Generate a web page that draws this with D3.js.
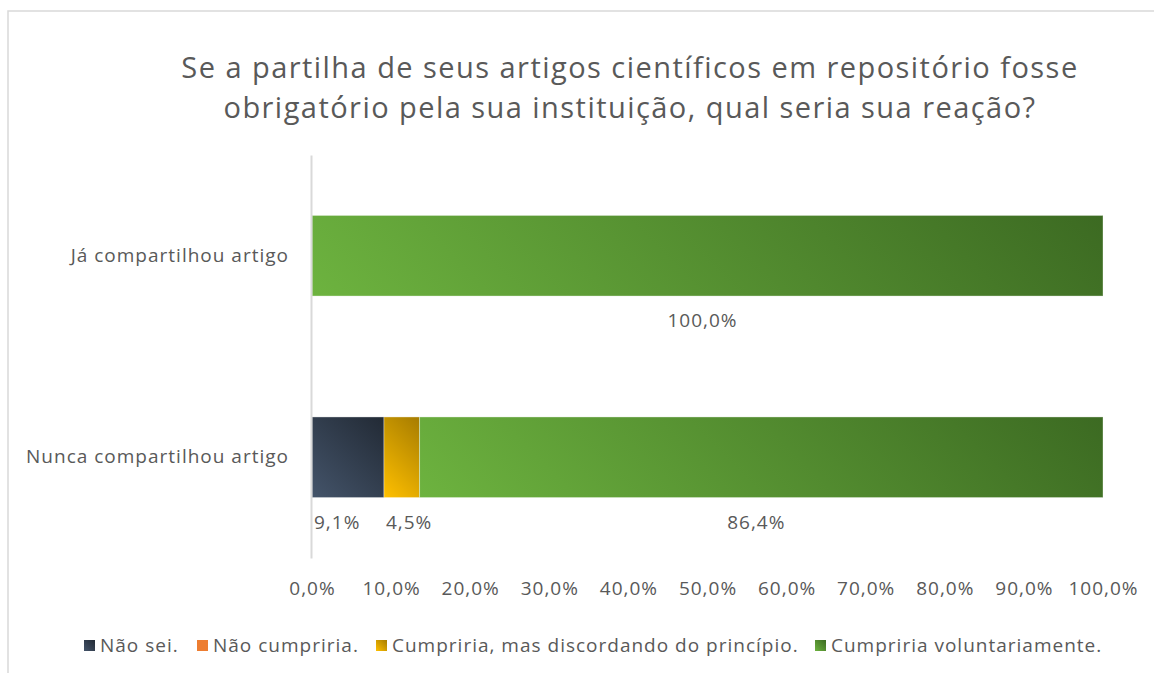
<!DOCTYPE html>
<html lang="pt">
<head>
<meta charset="UTF-8">
<title>Partilha obrigatória em repositório</title>
<style>
  html, body { margin: 0; background: #fff; }
  text { font-family: 'Open Sans', sans-serif; fill: #595959; }
</style>
</head>
<body>
<svg width="1154" height="673"></svg>
<script src="https://d3js.org/d3.v7.min.js"></script>
<script>

const titleLines = ["Se a partilha de seus artigos científicos em repositório fosse",
                    "obrigatório pela sua instituição, qual seria sua reação?"];
const categories = ["Já compartilhou artigo", "Nunca compartilhou artigo"];
const seriesNames = ["Não sei.", "Não cumpriria.", "Cumpriria, mas discordando do princípio.", "Cumpriria voluntariamente."];
const naoSei = [0, 9.1];
const naoCumpriria = [0, 0];
const cumpririaDiscordando = [0, 4.5];
const cumpririaVoluntariamente = [100, 86.4];
const xTicks = [0, 10, 20, 30, 40, 50, 60, 70, 80, 90, 100];

const seriesValues = [naoSei, naoCumpriria, cumpririaDiscordando, cumpririaVoluntariamente];
// gradient colours: bottom-left -> top-right
const colors = [["#44546a", "#222a35"], ["#ed7d31", "#ed7d31"], ["#ffc000", "#a67c00"], ["#6db33f", "#3c6a22"]];

const pct = function (d) { return d3.format(".1f")(d).replace(".", ",") + "%"; };

const svg = d3.select("svg");
const defs = svg.append("defs");

// frame
svg.append("rect")
    .attr("x", 8).attr("y", 11).attr("width", 1200).attr("height", 700)
    .attr("fill", "none").attr("stroke", "#d9d9d9").attr("stroke-width", 1.5);

// 45 degree gradient in user space, so wide bars fade left to right
function gradFor(id, c, bx, by, bw, bh) {
  const L = (bw + bh) / 2;
  const g = defs.append("linearGradient")
      .attr("id", id)
      .attr("gradientUnits", "userSpaceOnUse")
      .attr("x1", bx).attr("y1", by + bh)
      .attr("x2", bx + L).attr("y2", by + bh - L);
  g.append("stop").attr("offset", "0%").attr("stop-color", c[0]);
  g.append("stop").attr("offset", "100%").attr("stop-color", c[1]);
  return "url(#" + id + ")";
}

// title
svg.append("text")
    .attr("x", 630).attr("y", 78)
    .attr("text-anchor", "middle")
    .style("font-size", "29px")
    .style("letter-spacing", "1.45px")
    .selectAll("tspan")
    .data(titleLines)
    .join("tspan")
    .attr("x", 630)
    .attr("dy", function (d, i) { return i === 0 ? 0 : 40; })
    .text(function (d) { return d; });

const x = d3.scaleLinear().domain([0, 100]).range([312, 1103]);
const y = d3.scaleBand().domain(categories).range([155, 558]).paddingInner(0.6).paddingOuter(0.3);

// stacked data
const rows = categories.map(function (c, ci) {
  let acc = 0;
  return seriesValues.map(function (vals, si) {
    const d = { cat: c, ci: ci, series: si, x0: acc, x1: acc + vals[ci], value: vals[ci] };
    acc += vals[ci];
    return d;
  });
}).flat().filter(function (d) { return d.value > 0; });

svg.append("g").selectAll("rect")
    .data(rows)
    .join("rect")
    .attr("x", function (d) { return x(d.x0); })
    .attr("y", function (d) { return y(d.cat); })
    .attr("width", function (d) { return x(d.x1) - x(d.x0); })
    .attr("height", y.bandwidth())
    .attr("fill", function (d) {
      return gradFor("g" + d.ci + "_" + d.series, colors[d.series],
        x(d.x0), y(d.cat), x(d.x1) - x(d.x0), y.bandwidth());
    })
    .attr("stroke", "rgba(255,255,255,0.35)")
    .attr("stroke-width", 1);

// data labels under the bars
svg.append("g").selectAll("text")
    .data(rows)
    .join("text")
    .attr("x", function (d) {
      const w = x(d.x1) - x(d.x0);
      return w < 80 ? x(d.x0) + 2 : (x(d.x0) + x(d.x1)) / 2 - 5;
    })
    .attr("y", function (d) { return y(d.cat) + y.bandwidth() + 31; })
    .attr("text-anchor", function (d) { return x(d.x1) - x(d.x0) < 80 ? "start" : "middle"; })
    .style("font-size", "19px")
    .style("letter-spacing", "1px")
    .text(function (d) { return pct(d.value); });

// x axis labels
const xAxis = d3.axisBottom(x)
    .tickValues(xTicks)
    .tickSize(0)
    .tickPadding(0)
    .tickFormat(pct);
const gx = svg.append("g").attr("transform", "translate(0,578)").call(xAxis);
gx.select(".domain").remove();
gx.selectAll("text").style("font-size", "19px").style("letter-spacing", "1px")
    .attr("fill", "#595959").attr("dy", "0.9em");

// y axis
const yAxis = d3.axisLeft(y).tickSize(0).tickPadding(22);
const gy = svg.append("g").attr("transform", "translate(311,0)").call(yAxis);
gy.select(".domain").attr("stroke", "#d9d9d9").attr("stroke-width", 2);
gy.selectAll("text").style("font-size", "19px").style("letter-spacing", "1px").attr("fill", "#595959");

// legend
const legendX = [84, 197, 376, 815];
const legend = svg.append("g").selectAll("g")
    .data(seriesNames)
    .join("g")
    .attr("transform", function (d, i) { return "translate(" + legendX[i] + ",645)"; });
legend.append("rect")
    .attr("x", 0).attr("y", -5).attr("width", 11).attr("height", 11)
    .attr("fill", function (d, i) { return gradFor("lg" + i, colors[i], 0, -5, 11, 11); });
legend.append("text")
    .attr("x", 16).attr("y", 0).attr("dy", "0.35em")
    .style("font-size", "19px")
    .style("letter-spacing", "1px")
    .text(function (d) { return d; });

</script>
</body>
</html>
